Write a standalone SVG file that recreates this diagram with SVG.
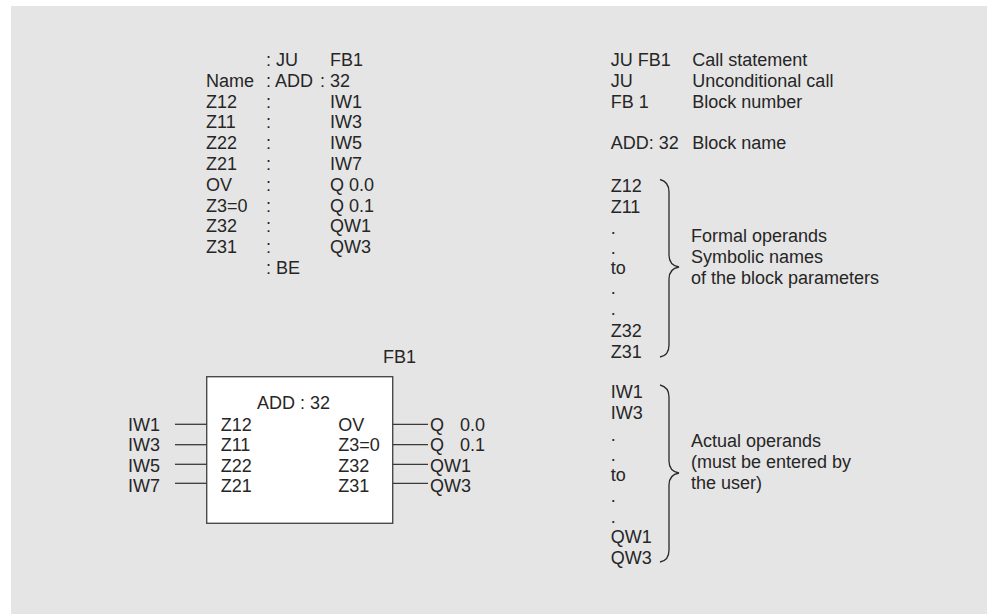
<svg xmlns="http://www.w3.org/2000/svg" width="987" height="614" viewBox="0 0 987 614">
<style>
text{font-family:"Liberation Sans",Arial,Helvetica,sans-serif;font-size:18px;fill:#262626}
.ln{stroke:#3a3a3a;stroke-width:1.3;fill:none}
.br{stroke:#2a2a2a;stroke-width:1.3;fill:none}
</style>
<rect x="0" y="0" width="987" height="614" fill="#ffffff"/>
<rect x="11" y="6" width="976" height="608" fill="#e5e5e5"/>
<g id="listing">
<text x="266" y="66">: JU</text><text x="330" y="66">FB1</text>
<text x="206" y="86.8">Name</text><text x="266" y="86.8">: ADD</text><text x="320" y="86.8">:</text><text x="330" y="86.8">32</text>
<text x="206" y="107.6">Z12</text><text x="266" y="107.6">:</text><text x="330" y="107.6">IW1</text>
<text x="206" y="128.4">Z11</text><text x="266" y="128.4">:</text><text x="330" y="128.4">IW3</text>
<text x="206" y="149.2">Z22</text><text x="266" y="149.2">:</text><text x="330" y="149.2">IW5</text>
<text x="206" y="170">Z21</text><text x="266" y="170">:</text><text x="330" y="170">IW7</text>
<text x="206" y="190.8">OV</text><text x="266" y="190.8">:</text><text x="330" y="190.8">Q 0.0</text>
<text x="206" y="211.6">Z3=0</text><text x="266" y="211.6">:</text><text x="330" y="211.6">Q 0.1</text>
<text x="206" y="232.4">Z32</text><text x="266" y="232.4">:</text><text x="330" y="232.4">QW1</text>
<text x="206" y="253.2">Z31</text><text x="266" y="253.2">:</text><text x="330" y="253.2">QW3</text>
<text x="266" y="274">: BE</text>
</g>
<g id="fb1">
<text x="383" y="362.7">FB1</text>
<rect x="206.7" y="376.7" width="186" height="146.6" fill="#ffffff" stroke="#4a4a4a" stroke-width="1.4"/>
<text x="257" y="409.3">ADD : 32</text>
<text x="220.7" y="430.5">Z12</text><text x="338.3" y="430.5">OV</text>
<text x="220.7" y="451">Z11</text><text x="338.3" y="451">Z3=0</text>
<text x="220.7" y="471.5">Z22</text><text x="338.3" y="471.5">Z32</text>
<text x="220.7" y="492">Z21</text><text x="338.3" y="492">Z31</text>
</g>
<g id="inputs">
<text x="128" y="430.5">IW1</text>
<text x="128" y="451">IW3</text>
<text x="128" y="471.5">IW5</text>
<text x="128" y="492">IW7</text>
</g>
<g id="outputs">
<text x="430" y="430.5">Q</text><text x="460" y="430.5">0.0</text>
<text x="430" y="451">Q</text><text x="460" y="451">0.1</text>
<text x="430" y="471.5">QW1</text>
<text x="430" y="492">QW3</text>
</g>
<g id="connectors">
<line class="ln" x1="175" y1="424.3" x2="206.7" y2="424.3"/>
<line class="ln" x1="175" y1="444.7" x2="206.7" y2="444.7"/>
<line class="ln" x1="175" y1="464.3" x2="206.7" y2="464.3"/>
<line class="ln" x1="175" y1="483.3" x2="206.7" y2="483.3"/>
<line class="ln" x1="392.7" y1="424.3" x2="428" y2="424.3"/>
<line class="ln" x1="392.7" y1="444.7" x2="428" y2="444.7"/>
<line class="ln" x1="392.7" y1="464.3" x2="428" y2="464.3"/>
<line class="ln" x1="392.7" y1="483.3" x2="428" y2="483.3"/>
</g>
<g id="legend">
<text x="610.7" y="66">JU FB1</text><text x="692.3" y="66">Call statement</text>
<text x="610.7" y="86.8">JU</text><text x="692.3" y="86.8">Unconditional call</text>
<text x="610.7" y="107.6">FB 1</text><text x="692.3" y="107.6">Block number</text>
<text x="610.7" y="149.2">ADD: 32</text><text x="692.3" y="149.2">Block name</text>
</g>
<g id="formal">
<text x="610.7" y="191.7">Z12</text>
<text x="610.7" y="212.5">Z11</text>
<text x="610.7" y="234">.</text>
<text x="610.7" y="254">.</text>
<text x="610.7" y="273.5">to</text>
<text x="610.7" y="294">.</text>
<text x="610.7" y="314.5">.</text>
<text x="610.7" y="337">Z32</text>
<text x="610.7" y="358">Z31</text>
<path class="br" d="M660,179.5 C666,181 669,185 669,192 L669,255 C669,262 673,266 679,267 C673,268 669,272 669,279 L669,345 C669,352 666,356 660,357"/>
<text x="691" y="242">Formal operands</text>
<text x="691" y="263">Symbolic names</text>
<text x="691" y="284">of the block parameters</text>
</g>
<g id="actual">
<text x="610.7" y="398.3">IW1</text>
<text x="610.7" y="419.1">IW3</text>
<text x="610.7" y="440.5">.</text>
<text x="610.7" y="460.5">.</text>
<text x="610.7" y="480.7">to</text>
<text x="610.7" y="502">.</text>
<text x="610.7" y="522.5">.</text>
<text x="610.7" y="543">QW1</text>
<text x="610.7" y="563.5">QW3</text>
<path class="br" d="M660,385 C666,386.5 669,390 669,397 L669,461 C669,468 673,472 679,473 C673,474 669,478 669,485 L669,550 C669,557 666,561 660,562"/>
<text x="691" y="447.3">Actual operands</text>
<text x="691" y="468">(must be entered by</text>
<text x="691" y="489">the user)</text>
</g>
</svg>
